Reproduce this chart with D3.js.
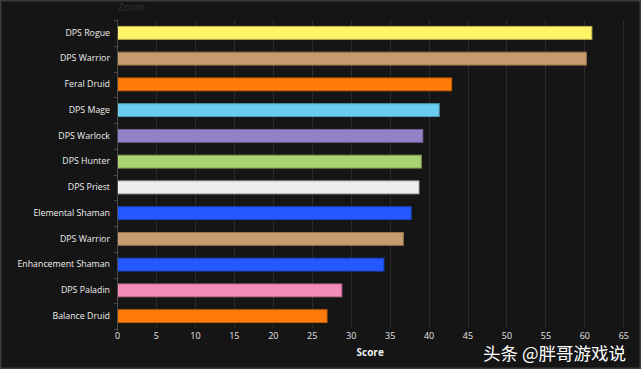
<!DOCTYPE html>
<html>
<head>
<meta charset="utf-8">
<script src="https://cdn.jsdelivr.net/npm/d3@7"></script>
<style>
  html, body { margin: 0; padding: 0; background: #151515; }
  svg { display: block; }
</style>
</head>
<body>
<svg id="chart" width="641" height="369"></svg>
<script>
const categories = ["DPS Rogue","DPS Warrior","Feral Druid","DPS Mage","DPS Warlock","DPS Hunter","DPS Priest","Elemental Shaman","DPS Warrior","Enhancement Shaman","DPS Paladin","Balance Druid"];
const scores = [60.9, 60.2, 42.9, 41.3, 39.2, 39.0, 38.7, 37.7, 36.7, 34.2, 28.8, 26.9];
const barColors = ["#FFF468","#C69B6D","#FF7C0A","#69CCF0","#9482C9","#AAD372","#EEEEEE","#2459FF","#C69B6D","#2459FF","#F48CBA","#FF7C0A"];
const xTicks = [0,5,10,15,20,25,30,35,40,45,50,55,60,65];

(function(){
const svg = d3.select("#chart");
const W = 641, H = 369;
const mLeft = 117, mRight = 623.3, mTop = 20, mBottom = 329;

// outer frame
svg.append("rect").attr("x",0.5).attr("y",0.5).attr("width",W-1).attr("height",H-1)
  .attr("fill","#151515").attr("stroke","#3a3a3a").attr("stroke-width",2);

const ids = categories.map((c,i)=>i);
const x = d3.scaleLinear().domain([0,65]).range([mLeft,mRight]);
const y = d3.scaleBand().domain(ids).range([mTop,mBottom]).paddingInner(0.5).paddingOuter(0.25);

// "Zoom" label
svg.append("text").attr("x",mLeft+1).attr("y",11).attr("fill","#333")
  .attr("font-family","Open Sans, sans-serif").attr("font-size",10).text("Zoom");

// gridlines
svg.append("g").selectAll("line").data(xTicks).join("line")
  .attr("x1",d=>Math.round(x(d))+0.5).attr("x2",d=>Math.round(x(d))+0.5)
  .attr("y1",mTop).attr("y2",mBottom-1)
  .attr("stroke","#2b2b2b").attr("stroke-width",1);

// x axis (labels only)
const xAxis = svg.append("g").attr("transform",`translate(0,${mBottom})`)
  .call(d3.axisBottom(x).tickValues(xTicks).tickSize(0).tickPadding(4));
xAxis.select(".domain").remove();
xAxis.selectAll("text").attr("fill","#e6e6e6").attr("font-size",9)
  .attr("font-family","Open Sans, sans-serif");

// bars
svg.append("g").selectAll("rect").data(scores).join("rect")
  .attr("x",x(0)+0.5)
  .attr("y",(d,i)=>y(i))
  .attr("width",d=>x(d)-x(0))
  .attr("height",y.bandwidth())
  .attr("fill",(d,i)=>barColors[i])
  .attr("stroke",(d,i)=>d3.color(barColors[i]).darker(0.8))
  .attr("stroke-width",1);

// y axis
const yAxis = svg.append("g").attr("transform",`translate(${mLeft},0)`)
  .call(d3.axisLeft(y).tickFormat(i=>categories[i]).tickSize(0).tickPadding(7));
yAxis.select(".domain").attr("stroke","#4a4a4a").attr("d",`M0.5,${mTop}V${mBottom+2}`);
yAxis.selectAll("text").attr("fill","#eeeeee").attr("font-size",8.8)
  .attr("font-family","Open Sans, sans-serif");
// boundary ticks
const bounds = ids.map(i=>y(i)-y.step()*y.paddingInner()/2).concat([mBottom]);
svg.append("g").selectAll("line").data(bounds).join("line")
  .attr("x1",mLeft-3).attr("x2",mLeft+0.5)
  .attr("y1",d=>Math.round(d)+0.5).attr("y2",d=>Math.round(d)+0.5)
  .attr("stroke","#4a4a4a");

// axis title
svg.append("text").attr("x",(mLeft+mRight)/2).attr("y",356).attr("text-anchor","middle")
  .attr("fill","#eeeeee").attr("font-weight","bold").attr("font-size",10)
  .attr("font-family","Open Sans, sans-serif").text("Score");

// watermark
svg.append("text").attr("x",483).attr("y",359.5).attr("fill","#ffffff")
  .attr("font-size",17.5).attr("font-family","Noto Sans CJK SC, sans-serif")
  .text("头条 @胖哥游戏说");
})();
</script>
</body>
</html>
